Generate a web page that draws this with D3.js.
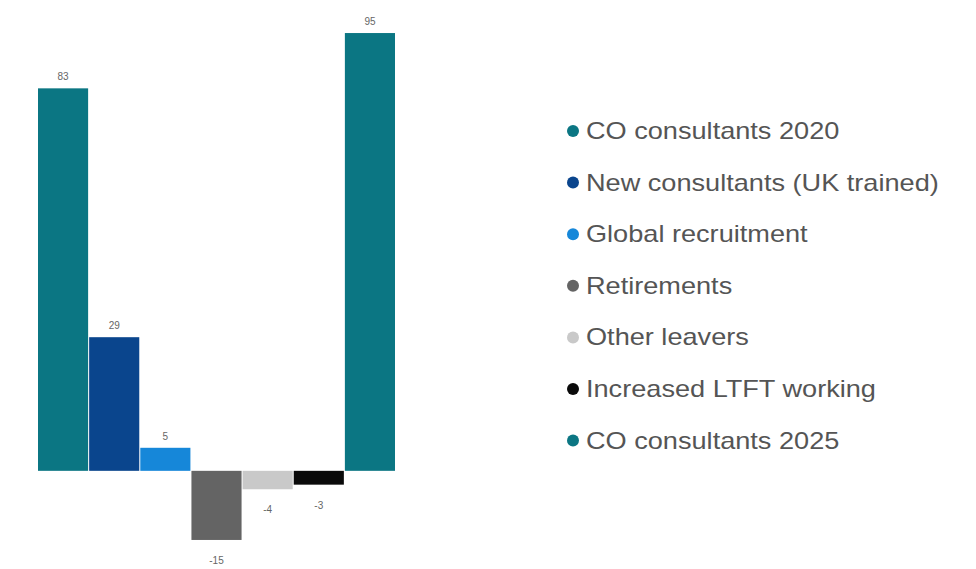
<!DOCTYPE html>
<html>
<head>
<meta charset="utf-8">
<script src="https://cdn.jsdelivr.net/npm/d3@7"></script>
<style>
  html, body { margin: 0; padding: 0; background: #fff; }
  svg { display: block; }
</style>
</head>
<body>
<svg id="chart" width="976" height="569"></svg>
<script>
// Consultant workforce change, 2020 to 2025
const categories = [
  "CO consultants 2020",
  "New consultants (UK trained)",
  "Global recruitment",
  "Retirements",
  "Other leavers",
  "Increased LTFT working",
  "CO consultants 2025"
];
const values = [83, 29, 5, -15, -4, -3, 95];
const colors = ["#0b7683", "#0a458d", "#1687d9", "#646464", "#c9c9c9", "#0a0a0a", "#0b7683"];

const svg = d3.select("#chart");

const x = d3.scaleBand()
  .domain(categories)
  .range([38, 395])
  .paddingInner(0.02)
  .paddingOuter(0);

const y = d3.scaleLinear()
  .domain([-20, 100])
  .range([563, 10]);

const rows = categories.map((c, i) => ({ cat: c, value: values[i], color: colors[i] }));

// bars grow from zero
svg.append("g")
  .selectAll("rect")
  .data(rows)
  .join("rect")
  .attr("x", d => x(d.cat))
  .attr("width", x.bandwidth())
  .attr("y", d => y(Math.max(0, d.value)))
  .attr("height", d => Math.abs(y(d.value) - y(0)))
  .attr("fill", d => d.color);

// value labels above positive bars, below negative ones
svg.append("g")
  .selectAll("text")
  .data(rows)
  .join("text")
  .attr("x", d => x(d.cat) + x.bandwidth() / 2)
  .attr("y", d => d.value >= 0 ? y(d.value) - 8 : y(d.value) + 24)
  .attr("text-anchor", "middle")
  .attr("font-family", "Liberation Sans, Arial, sans-serif")
  .attr("font-size", 10)
  .attr("fill", "#666")
  .text(d => d.value);

// legend
const legend = svg.append("g").attr("transform", "translate(573,131)");
const item = legend.selectAll("g")
  .data(rows)
  .join("g")
  .attr("transform", (d, i) => `translate(0,${i * 51.6})`);

item.append("circle")
  .attr("r", 6)
  .attr("fill", d => d.color);

item.append("text")
  .attr("transform", "translate(13,0) scale(1.18,1)")
  .attr("dy", "0.35em")
  .attr("font-family", "Liberation Sans, Arial, sans-serif")
  .attr("font-size", 23)
  .attr("fill", "#555")
  .text(d => d.cat);
</script>
</body>
</html>
